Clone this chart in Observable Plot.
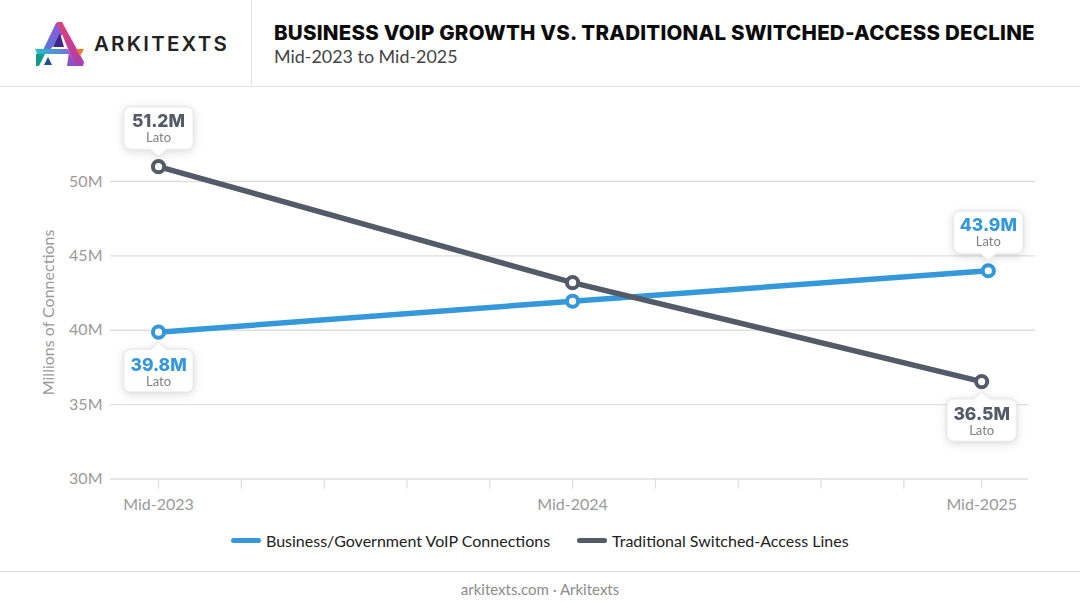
<!DOCTYPE html>
<html>
<head>
<meta charset="utf-8">
<script src="https://cdn.jsdelivr.net/npm/d3@7"></script>
<script src="https://cdn.jsdelivr.net/npm/@observablehq/plot@0.6"></script>
<style>
html,body{margin:0;padding:0;background:#fff;}
#page{position:relative;width:1080px;height:603px;overflow:hidden;font-family:Lato,sans-serif;}
#header{position:absolute;left:0;top:0;width:1080px;height:86px;border-bottom:1px solid #e2e2e2;box-sizing:content-box;}
#divider{position:absolute;left:251px;top:0;width:1px;height:86px;background:#e2e2e2;}
#brand{position:absolute;left:94px;top:33px;font:600 20.5px/22px Inter,sans-serif;letter-spacing:2.2px;color:#222;}
#title{position:absolute;left:274px;top:20px;font:800 20.5px/26px Inter,sans-serif;letter-spacing:0.22px;color:#0b0b0b;white-space:nowrap;}
#subtitle{position:absolute;left:274px;top:44px;font:400 17.9px/24px Lato,sans-serif;color:#444;white-space:nowrap;}
#chart{position:absolute;left:0;top:88px;}
#legend{position:absolute;left:0;top:530px;width:1080px;height:22px;font:400 16px/22px Lato,sans-serif;color:#222;}
.key{position:absolute;top:8px;width:30px;height:5px;border-radius:3px;}
.lab{position:absolute;top:0;white-space:nowrap;}
#footer{position:absolute;left:0;top:571px;width:1080px;height:32px;border-top:1px solid #dcdcdc;text-align:center;font:400 15px/34px Lato,sans-serif;color:#8c8c8c;}
</style>
</head>
<body>
<div id="page">
  <div id="header">
    <svg width="100" height="87" style="position:absolute;left:0;top:0">
      <defs>
        <linearGradient id="lg1" x1="0" y1="1" x2="1" y2="0"><stop offset="0" stop-color="#4f7be0"/><stop offset="1" stop-color="#a24fd0"/></linearGradient>
        <linearGradient id="lg2" x1="0" y1="0" x2="1" y2="1"><stop offset="0" stop-color="#e83f6f"/><stop offset="1" stop-color="#a53fb5"/></linearGradient>
        <linearGradient id="lg3" x1="0" y1="0" x2="1" y2="0"><stop offset="0" stop-color="#1fc4c8"/><stop offset="1" stop-color="#7a6be0"/></linearGradient>
      </defs>
      <polygon points="56,23 62,22 65,31 50,50 43,50" fill="url(#lg1)"/>
      <polygon points="57,22 62,22 84,62 83,66 75,66" fill="url(#lg2)"/>
      <polygon points="60,33 64,47 53,47" fill="#3f2a8c"/>
      <polygon points="35,49 68,49 70,54 43,54 38,56" fill="url(#lg3)"/>
      <polygon points="76,49 84,49 80,56" fill="#f07a2b"/>
      <polygon points="36,54 45,54 39,66 36,66" fill="#0f9a8a"/>
      <polygon points="48,57 52,65 44,65" fill="#1d4f8f"/>
      <polygon points="69,52 76,66 67,66" fill="#8c52c8"/>
    </svg>
    <div id="brand">ARKITEXTS</div>
    <div id="divider"></div>
    <div id="title">BUSINESS VOIP GROWTH VS. TRADITIONAL SWITCHED-ACCESS DECLINE</div>
    <div id="subtitle">Mid-2023 to Mid-2025</div>
  </div>
  <div id="chart"></div>
  <div id="legend">
    <div class="key" style="left:231px;background:#3498db"></div>
    <div class="lab" style="left:266px">Business/Government VoIP Connections</div>
    <div class="key" style="left:577px;background:#535a68"></div>
    <div class="lab" style="left:612px">Traditional Switched-Access Lines</div>
  </div>
  <div id="footer">arkitexts.com · Arkitexts</div>
</div>
<script>
const BLUE = "#3498db", DARK = "#535a68", GRID = "#dfdfdf", MUTED = "#9a9a9a";

// x is the position along the period axis, in tenths of the two-year span
const voipX = [0, 5, 10.02];
const voipY = [39.87, 41.95, 44.0];
const lineX = [0, 5, 9.94];
const lineY = [51.0, 43.2, 36.55];

const periodTicks = [0, 1, 2, 3, 4, 5, 6, 7, 8, 9, 9.94];
const periodLabels = new Map([[0, "Mid-2023"], [5, "Mid-2024"], [9.94, "Mid-2025"]]);

const gridValues = [30, 35, 40, 45, 50];
const gridEnds = [10.51, 10.51, 10.59, 10.59, 10.59];

const calloutText = ["39.8M", "43.9M", "51.2M", "36.5M"];
const calloutSub = ["Lato", "Lato", "Lato", "Lato"];
const calloutX = [0, 10.02, 0, 9.94];
const calloutY = [39.87, 44.0, 51.0, 36.55];
const calloutColor = [BLUE, BLUE, DARK, DARK];
const calloutSide = ["below", "above", "above", "below"];

const table = (xs, ys) => xs.map((x, i) => ({x, y: ys[i]}));
const voip = table(voipX, voipY);
const lines = table(lineX, lineY);
const grid = gridValues.map((y, i) => ({y, end: gridEnds[i]}));
const callouts = calloutText.map((t, i) => ({
  t, sub: calloutSub[i], x: calloutX[i], y: calloutY[i], c: calloutColor[i], side: calloutSide[i]
}));

// speech-bubble symbol: a rounded box with a small pointer toward the data point
function bubble(dir) {
  return {
    draw(ctx) {
      const w = 35, r = 7, s = dir;
      const near = 17 * s, far = 60 * s, tipY = 10 * s, tw = 8;
      ctx.moveTo(-tw, near);
      ctx.lineTo(0, tipY);
      ctx.lineTo(tw, near);
      ctx.lineTo(w - r, near);
      ctx.arcTo(w, near, w, near + r * s, r);
      ctx.lineTo(w, far - r * s);
      ctx.arcTo(w, far, w - r, far, r);
      ctx.lineTo(-w + r, far);
      ctx.arcTo(-w, far, -w, far - r * s, r);
      ctx.lineTo(-w, near + r * s);
      ctx.arcTo(-w, near, -w + r, near, r);
      ctx.closePath();
    }
  };
}

const bubbleMark = (side, dir) => Plot.dot(callouts.filter(d => d.side === side), {
  x: "x", y: "y", r: 10, symbol: bubble(dir),
  fill: "#fff", stroke: "#dedede", strokeWidth: 1,
  imageFilter: "drop-shadow(0 2px 4px rgba(0,0,0,0.13))"
});
const offsetValue = d => d.side === "above" ? -45 : 33;
const offsetSub = d => d.side === "above" ? -28.5 : 49.5;

const plot = Plot.plot({
  width: 1080,
  height: 432,
  marginLeft: 110,
  marginRight: 45,
  marginTop: 93,
  marginBottom: 41.5,
  style: {background: "transparent", overflow: "visible"},
  x: {domain: [-0.58, 10.59], range: [110, 1035], axis: null},
  y: {domain: [30, 50], axis: null},
  marks: [
    Plot.ruleY(grid, {y: "y", x1: -0.58, x2: "end", stroke: GRID, strokeWidth: 1.3}),
    Plot.axisY(gridValues, {
      anchor: "left", tickSize: 0, tickPadding: 8, label: null,
      tickFormat: d => d + "M", fontSize: 16, fill: MUTED,
      fontFamily: "Lato, sans-serif"
    }),
    Plot.axisX(periodTicks, {
      anchor: "bottom", tickSize: 10, tickPadding: 10, label: null,
      tickFormat: d => periodLabels.get(d) ?? "",
      fontSize: 16, fill: MUTED, stroke: GRID, strokeWidth: 1.2,
      fontFamily: "Lato, sans-serif"
    }),
    Plot.text(["Millions of Connections"], {
      x: [-1.33], y: [41.2], rotate: -90, fontSize: 16, fill: MUTED,
      fontFamily: "Lato, sans-serif"
    }),
    Plot.line(voip, {x: "x", y: "y", stroke: BLUE, strokeWidth: 5.5}),
    Plot.line(lines, {x: "x", y: "y", stroke: DARK, strokeWidth: 5.5}),
    Plot.dot(voip, {x: "x", y: "y", r: 5.6, fill: "#fff", stroke: BLUE, strokeWidth: 4}),
    Plot.dot(lines, {x: "x", y: "y", r: 5.6, fill: "#fff", stroke: DARK, strokeWidth: 4}),
    bubbleMark("above", -1),
    bubbleMark("below", 1),
    ...callouts.map(d => Plot.text([d], {
      x: "x", y: "y", text: "t", fill: "c", dy: offsetValue(d),
      fontSize: 17.5, fontWeight: 800, fontFamily: "Inter, sans-serif"
    })),
    ...callouts.map(d => Plot.text([d], {
      x: "x", y: "y", text: "sub", fill: "#808080", dy: offsetSub(d),
      fontSize: 13, fontFamily: "Lato, sans-serif"
    }))
  ]
});
document.getElementById("chart").appendChild(plot);
</script>
</body>
</html>
